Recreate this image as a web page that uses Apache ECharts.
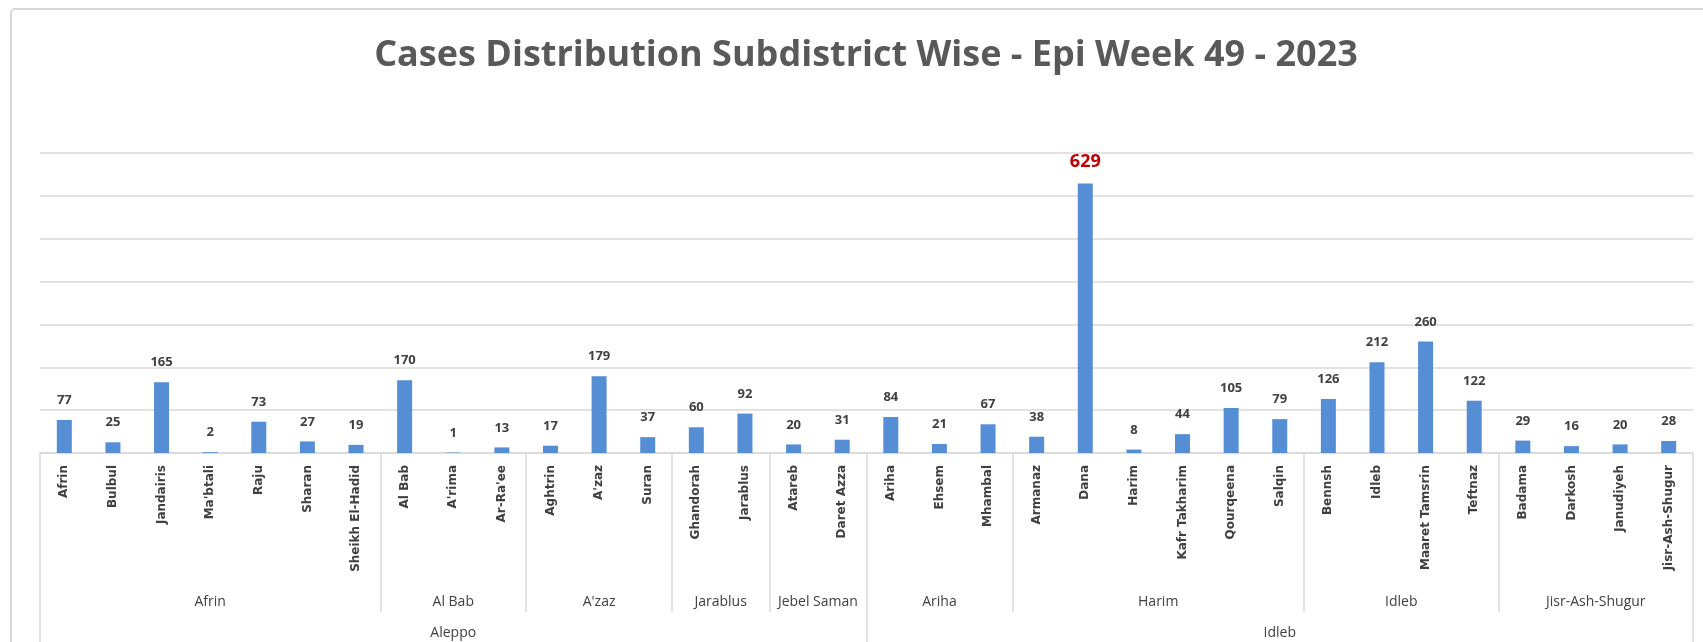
<!DOCTYPE html>
<html>
<head>
<meta charset="utf-8">
<script src="https://cdn.jsdelivr.net/npm/echarts@6/dist/echarts.min.js"></script>
<style>
  html, body { margin: 0; padding: 0; background: #fff; }
  #chart { width: 1703px; height: 642px; }
</style>
</head>
<body>
<div id="chart"></div>
<script>
// subdistricts, in axis order
var subdistricts = [
  'Afrin', 'Bulbul', 'Jandairis', "Ma'btali", 'Raju', 'Sharan', 'Sheikh El-Hadid',
  'Al Bab', "A'rima", "Ar-Ra'ee",
  'Aghtrin', "A'zaz", 'Suran',
  'Ghandorah', 'Jarablus',
  'Atareb', 'Daret Azza',
  'Ariha', 'Ehsem', 'Mhambal',
  'Armanaz', 'Dana', 'Harim', 'Kafr Takharim', 'Qourqeena', 'Salqin',
  'Bennsh', 'Idleb', 'Maaret Tamsrin', 'Teftnaz',
  'Badama', 'Darkosh', 'Janudiyeh', 'Jisr-Ash-Shugur'
];
var cases = [
  77, 25, 165, 2, 73, 27, 19,
  170, 1, 13,
  17, 179, 37,
  60, 92,
  20, 31,
  84, 21, 67,
  38, 629, 8, 44, 105, 79,
  126, 212, 260, 122,
  29, 16, 20, 28
];
// districts and how many subdistricts each holds
var districts = ['Afrin', 'Al Bab', "A'zaz", 'Jarablus', 'Jebel Saman', 'Ariha', 'Harim', 'Idleb', 'Jisr-Ash-Shugur'];
var districtCounts = [7, 3, 3, 2, 2, 3, 6, 4, 4];
// governorates and how many subdistricts each holds
var governorates = ['Aleppo', 'Idleb'];
var governorateCounts = [17, 17];

var highlight = 'Dana';
var yMax = 700, yStep = 100;

// builds a half-step category axis (2n+1 points) so group centres and
// group boundaries both land on a point
function groupAxis(names, counts) {
  var n = subdistricts.length;
  var labels = [], bounds = {}, start = 0;
  for (var i = 0; i <= 2 * n; i++) labels.push('');
  bounds[0] = true;
  names.forEach(function (name, g) {
    var end = start + counts[g] - 1;
    labels[start + end + 1] = name;
    bounds[2 * (end + 1)] = true;
    start = end + 1;
  });
  return { labels: labels, bounds: bounds, keys: labels.map(function (_, i) { return 'p' + i; }) };
}

var dAxis = groupAxis(districts, districtCounts);
var gAxis = groupAxis(governorates, governorateCounts);

var chart = echarts.init(document.getElementById('chart'));

var option = {
  backgroundColor: '#fff',
  animation: false,
  graphic: [
    {
      type: 'rect',
      z: -1,
      shape: { x: 11, y: 9, width: 1760, height: 700, r: 4 },
      style: { fill: 'none', stroke: '#d9d9d9', lineWidth: 2 }
    },
    {
      type: 'text',
      x: 866,
      y: 56,
      style: {
        text: 'Cases Distribution Subdistrict Wise - Epi Week 49 - 2023',
        font: 'bold 36px "Open Sans"',
        fill: '#595959',
        textAlign: 'center',
        textVerticalAlign: 'middle'
      }
    }
  ],
  grid: { left: 40, right: 10, top: 153, bottom: 189 },
  xAxis: [
    {
      type: 'category',
      data: subdistricts,
      axisLine: { show: true, lineStyle: { color: '#d9d9d9', width: 1.5 } },
      axisTick: { show: false },
      axisLabel: {
        interval: 0,
        rotate: 90,
        margin: 12,
        color: '#404040',
        fontFamily: 'DejaVu Sans',
        fontWeight: 'bold',
        fontSize: 12
      }
    },
    {
      type: 'category',
      boundaryGap: false,
      data: dAxis.keys,
      position: 'bottom',
      axisLine: { show: false },
      axisTick: {
        show: true,
        length: 159,
        interval: function (idx) { return !!dAxis.bounds[idx]; },
        lineStyle: { color: '#d9d9d9', width: 1.5 }
      },
      axisLabel: {
        interval: 0,
        margin: 142,
        color: '#404040',
        fontFamily: 'Open Sans',
        fontSize: 14,
        formatter: function (v, idx) { return dAxis.labels[idx]; }
      }
    },
    {
      type: 'category',
      boundaryGap: false,
      data: gAxis.keys,
      position: 'bottom',
      axisLine: { show: false },
      axisTick: {
        show: true,
        length: 200,
        interval: function (idx) { return !!gAxis.bounds[idx]; },
        lineStyle: { color: '#d9d9d9', width: 1.5 }
      },
      axisLabel: {
        interval: 0,
        margin: 173,
        color: '#404040',
        fontFamily: 'Open Sans',
        fontSize: 14,
        formatter: function (v, idx) { return gAxis.labels[idx]; }
      }
    }
  ],
  yAxis: {
    type: 'value',
    min: 0,
    max: yMax,
    interval: yStep,
    axisLabel: { show: false },
    axisLine: { show: false },
    axisTick: { show: false },
    splitLine: { lineStyle: { color: '#d9d9d9', width: 1.5 } }
  },
  series: [
    {
      type: 'bar',
      barWidth: 15,
      itemStyle: { color: '#558ed5' },
      label: {
        show: true,
        position: 'top',
        distance: 13,
        color: '#404040',
        fontFamily: 'Open Sans',
        fontWeight: 'bold',
        fontSize: 13
      },
      data: cases.map(function (v, i) {
        if (subdistricts[i] !== highlight) return v;
        return { value: v, label: { color: '#c00000', fontSize: 18 } };
      })
    }
  ]
};

chart.setOption(option);
</script>
</body>
</html>
